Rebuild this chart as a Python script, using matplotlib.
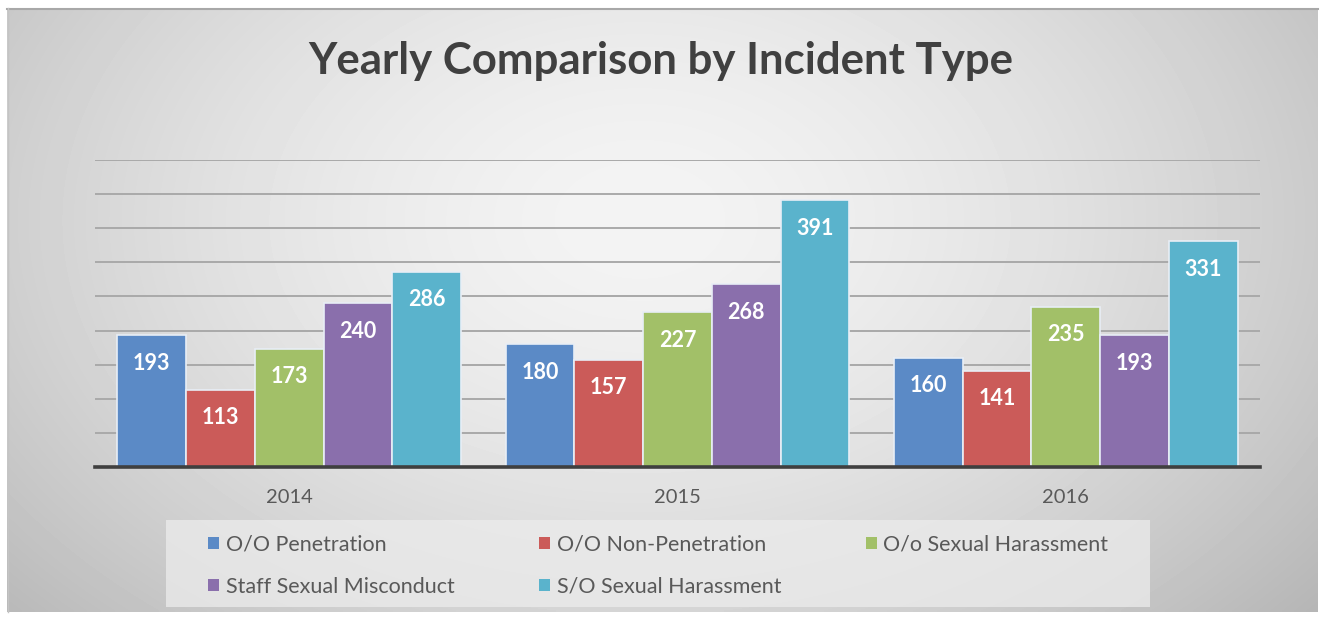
import numpy as np
import matplotlib.pyplot as plt
from matplotlib.patches import Patch, Rectangle

plt.rcParams['font.family'] = ['Lato', 'DejaVu Sans']

years = ["2014", "2015", "2016"]
series = ["O/O Penetration", "O/O Non-Penetration", "O/o Sexual Harassment",
          "Staff Sexual Misconduct", "S/O Sexual Harassment"]
penetration = [193, 180, 160]
non_penetration = [113, 157, 141]
oo_harassment = [173, 227, 235]
staff_misconduct = [240, 268, 193]
so_harassment = [286, 391, 331]
values = [penetration, non_penetration, oo_harassment, staff_misconduct, so_harassment]
colors = ["#5b8ac6", "#cb5b59", "#a2c068", "#8a6fac", "#5ab3cc"]

W, H = 1321, 621
fig = plt.figure(figsize=(W / 100, H / 100), dpi=100)
fig.patch.set_facecolor("white")

# gradient background panel
bg = fig.add_axes([0, 0, 1, 1], zorder=0)
bg.axis("off")
gx, gy = np.meshgrid(np.linspace(7, 1318, 400), np.linspace(8, 612, 200))
r = np.sqrt(((gx - 640) / 760) ** 2 + ((gy - 220) / 520) ** 2)
shade = np.clip(0.955 - 0.19 * r ** 1.6, 0, 1)
bg.imshow(shade, cmap="gray", vmin=0, vmax=1, extent=[7, 1318, 612, 8],
          aspect="auto", interpolation="bilinear")
bg.plot([7, 1318], [8.5, 8.5], color="#a8a8a8", lw=1.5)
bg.plot([7.5, 7.5], [8, 612], color="#c4c4c4", lw=1)
bg.set_xlim(0, W)
bg.set_ylim(H, 0)

ax = fig.add_axes([95 / W, 1 - 467 / H, 1165 / W, 307 / H], zorder=1)
ax.patch.set_alpha(0)
x = np.arange(len(years))
bw = 0.177
for i, (vals, c) in enumerate(zip(values, colors)):
    pos = x + (i - 2) * bw
    ax.bar(pos, vals, width=bw, color=c, edgecolor="#e8eef6", linewidth=1.2, zorder=3)
    for xp, v in zip(pos, vals):
        ax.text(xp, v - 41, str(v), ha="center", va="center", color="white",
                fontsize=15.5, fontweight="bold", zorder=4)

ax.set_xlim(-0.5, 2.5)
ax.set_ylim(0, 450)
ax.set_yticks(np.arange(50, 451, 50))
ax.yaxis.grid(True, color="#a9a9a9", lw=1.4, zorder=0)
ax.tick_params(axis="y", left=False, labelleft=False)
ax.set_xticks(x)
ax.set_xticklabels(years, fontsize=14.5, color="#595959")
ax.tick_params(axis="x", length=0, pad=16)
for s in ["top", "right", "left"]:
    ax.spines[s].set_visible(False)
ax.spines["bottom"].set_color("#3f3f3f")
ax.spines["bottom"].set_linewidth(2.6)
ax.spines["bottom"].set_zorder(5)

fig.text(0.5, 1 - 61 / H, "Yearly Comparison by Incident Type", ha="center", va="center",
         fontsize=31.5, fontweight="bold", color="#404040")

# legend box
bg.add_patch(Rectangle((166, 520), 984, 87, facecolor="#ececec", alpha=0.75,
                       edgecolor="none", zorder=2))
handles = [Patch(facecolor=c, edgecolor="none") for c in colors]
order = [0, 3, 1, 4, 2]
leg = fig.legend([handles[i] for i in order], [series[i] for i in order],
                 loc="upper left", bbox_to_anchor=(189 / W, 1 - 515 / H), ncol=3,
                 frameon=False, fontsize=15.5, handlelength=0.5, handleheight=0.5,
                 handletextpad=0.3, columnspacing=3.95, labelspacing=1.05)
for t in leg.get_texts():
    t.set_color("#595959")

fig.savefig("out.png", dpi=100)
